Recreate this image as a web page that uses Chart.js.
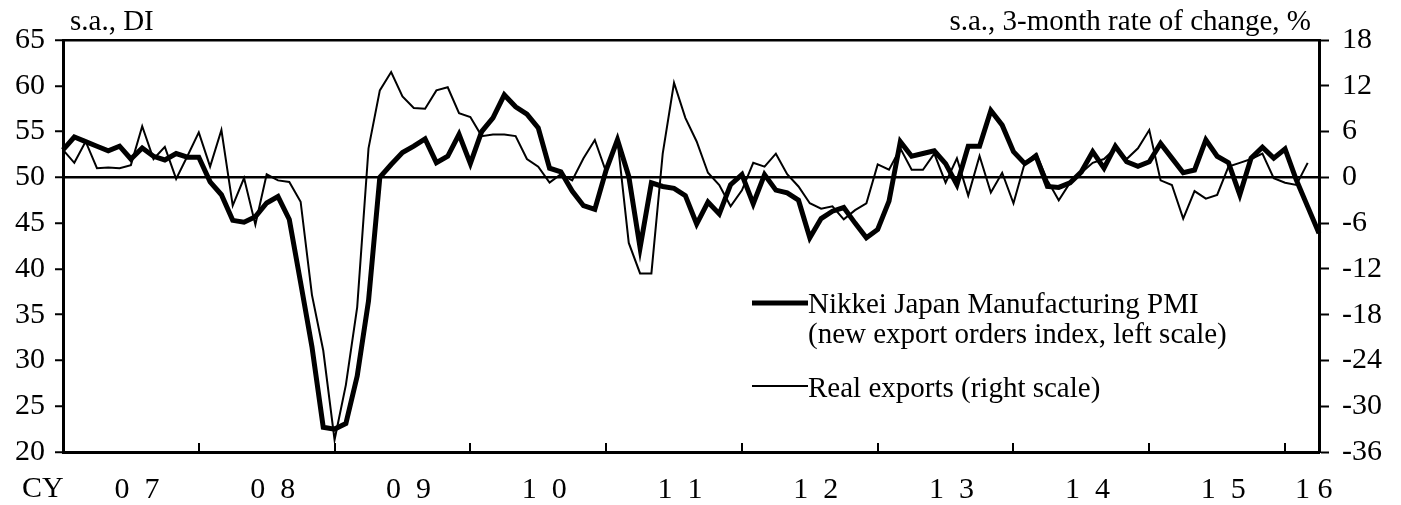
<!DOCTYPE html>
<html>
<head>
<meta charset="utf-8">
<script src="https://cdn.jsdelivr.net/npm/chart.js@4.4.0/dist/chart.umd.min.js"></script>
<style>
  html, body { margin: 0; padding: 0; background: #fff; }
  #wrap { width: 1401px; height: 505px; position: relative; }
</style>
</head>
<body>
<div id="wrap"><canvas id="chart"></canvas></div>
<script>
// Monthly, Jan 2007 - Apr 2016
const months = [];
for (let y = 2007; y <= 2016; y++) {
    for (let m = 1; m <= 12; m++) {
        if (y === 2016 && m > 4) break;
        months.push(y + '-' + String(m).padStart(2, '0'));
    }
}

// x-axis year labels and the month index they sit on
const yearLabels = ['0  7', '0  8', '0  9', '1  0', '1  1', '1  2', '1  3', '1  4', '1  5', '1 6'];
const yearLabelIdx = [6, 18, 30, 42, 54, 66, 78, 90, 102, 110];

// Nikkei Japan Manufacturing PMI, new export orders (left scale, DI)
const pmiExportOrders = [
    53.0, 54.4, 53.9, 53.4, 52.9, 53.4, 52.0, 53.2, 52.3, 51.9, 52.6, 52.2,
    52.2, 49.5, 48.1, 45.3, 45.1, 45.7, 47.2, 47.9, 45.4, 38.5, 31.5, 22.7,
    22.5, 23.1, 28.3, 36.5, 50.0, 51.4, 52.7, 53.4, 54.2, 51.6, 52.3, 54.7,
    51.5, 55.0, 56.5, 59.0, 57.7, 56.9, 55.4, 51.0, 50.6, 48.5, 46.9, 46.5,
    50.8, 54.1, 50.1, 42.3, 49.4, 49.0, 48.8, 48.0, 44.9, 47.3, 46.0, 49.2,
    50.3, 47.1, 50.3, 48.6, 48.3, 47.5, 43.4, 45.5, 46.3, 46.7, 45.0, 43.4,
    44.3, 47.4, 53.9, 52.3, 52.6, 52.9, 51.5, 49.2, 53.4, 53.4, 57.3, 55.7,
    52.8, 51.5, 52.3, 49.0, 48.9, 49.4, 50.6, 52.8, 51.0, 53.4, 51.7, 51.2,
    51.7, 53.7, 52.1, 50.5, 50.8, 54.1, 52.3, 51.6, 48.1, 52.1, 53.3, 52.1,
    53.1, 49.7, 46.8, 43.9
];

// Real exports, 3-month rate of change, % (right scale)
const realExports = [
    3.6, 1.9, 4.7, 1.2, 1.3, 1.2, 1.6, 6.7, 2.4, 4.0, -0.2, 2.8,
    5.9, 1.4, 6.2, -3.7, -0.1, -6.2, 0.4, -0.4, -0.6, -3.2, -15.4, -22.7,
    -34.4, -27.2, -17.0, 3.8, 11.4, 13.8, 10.6, 9.1, 9.0, 11.4, 11.8, 8.4,
    7.9, 5.4, 5.6, 5.6, 5.4, 2.4, 1.4, -0.7, 0.4, -0.4, 2.5, 4.9,
    0.7, 4.9, -8.6, -12.6, -12.6, 3.1, 12.4, 7.8, 4.7, 0.6, -1.0, -3.8,
    -1.7, 1.9, 1.4, 3.1, 0.4, -1.2, -3.4, -4.1, -3.8, -5.5, -4.3, -3.4,
    1.7, 1.0, 3.8, 1.0, 1.0, 3.1, -0.7, 2.5, -2.4, 2.8, -2.0, 0.6,
    -3.4, 1.9, 3.1, -0.4, -3.0, -0.7, 0.6, 1.9, 2.4, 3.8, 2.4, 3.8,
    6.2, -0.4, -1.0, -5.4, -1.8, -2.8, -2.3, 1.4, 1.9, 2.4, 3.1, -0.1,
    -0.7, -1.0, 1.9
];

const seriesNames = [
    ['Nikkei Japan Manufacturing PMI', '(new export orders index, left scale)'],
    ['Real exports (right scale)']
];

const FONT = 'Liberation Serif, Times New Roman, serif';
const textSize = 29;
const tickSize = 30;

// Titles, CY label, inward year ticks and the legend
const extrasPlugin = {
    id: 'extras',
    afterDraw(chart) {
        const ctx = chart.ctx;
        const area = chart.chartArea;
        const xs = chart.scales.x;
        ctx.save();
        ctx.fillStyle = '#000';
        ctx.strokeStyle = '#000';
        ctx.font = textSize + 'px ' + FONT;

        // axis unit titles
        ctx.textBaseline = 'alphabetic';
        ctx.textAlign = 'left';
        ctx.fillText('s.a., DI', area.left + 7, 30);
        ctx.textAlign = 'right';
        ctx.fillText('s.a., 3-month rate of change, %', area.right - 8, 30);

        // CY
        ctx.font = tickSize + 'px ' + FONT;
        ctx.textAlign = 'left';
        ctx.fillText('CY', area.left - 41, 497);

        // year boundary ticks pointing into the plot
        ctx.lineWidth = 2;
        for (let i = 12; i < months.length; i += 12) {
            const x = Math.round(xs.getPixelForValue(i));
            ctx.beginPath();
            ctx.moveTo(x, area.bottom);
            ctx.lineTo(x, area.bottom - 9);
            ctx.stroke();
        }

        // legend
        ctx.font = textSize + 'px ' + FONT;
        const lx0 = area.left + 689;
        const lx1 = area.left + 745;
        const rows = [
            { ds: 0, lineY: 303, base: [313, 343] },
            { ds: 1, lineY: 386, base: [397] }
        ];
        rows.forEach(r => {
            const ds = chart.data.datasets[r.ds];
            ctx.lineWidth = ds.borderWidth;
            ctx.beginPath();
            ctx.moveTo(lx0, r.lineY);
            ctx.lineTo(lx1, r.lineY);
            ctx.stroke();
            seriesNames[r.ds].forEach((t, k) => {
                ctx.fillText(t, lx1, r.base[k]);
            });
        });
        ctx.restore();
    }
};

new Chart(document.getElementById('chart').getContext('2d'), {
    type: 'line',
    data: {
        labels: months,
        datasets: [{
            label: seriesNames[0].join(' '),
            data: pmiExportOrders,
            yAxisID: 'y',
            borderColor: '#000',
            borderWidth: 5,
            pointRadius: 0,
            tension: 0,
        }, {
            label: seriesNames[1][0],
            data: realExports,
            yAxisID: 'y1',
            borderColor: '#000',
            borderWidth: 2,
            pointRadius: 0,
            tension: 0,
        }],
    },
    options: {
        responsive: true,
        maintainAspectRatio: false,
        animation: false,
        layout: { padding: { top: 40 } },
        plugins: {
            legend: { display: false },
            tooltip: { enabled: false },
        },
        scales: {
            x: {
                type: 'category',
                offset: false,
                grid: { display: false },
                border: { display: true, color: '#000', width: 3 },
                ticks: {
                    autoSkip: false,
                    maxRotation: 0,
                    padding: 12,
                    labelOffset: 6,
                    color: '#000',
                    font: { family: FONT, size: tickSize },
                    callback: (v, i) => {
                        const k = yearLabelIdx.indexOf(i);
                        return k >= 0 ? yearLabels[k] : '';
                    },
                },
                afterFit: s => { s.height = 53; },
            },
            y: {
                position: 'left',
                min: 20,
                max: 65,
                grid: {
                    color: c => (c.tick && (c.tick.value === 50 || c.tick.value === 65)) ? '#000' : 'rgba(0,0,0,0)',
                    lineWidth: 2.5,
                    tickColor: '#000',
                    tickWidth: 2,
                    tickLength: 8,
                },
                border: { display: true, color: '#000', width: 3 },
                ticks: {
                    stepSize: 5,
                    padding: 10,
                    color: '#000',
                    font: { family: FONT, size: tickSize },
                },
                afterFit: s => { s.width = 63; },
            },
            y1: {
                position: 'right',
                min: -36,
                max: 18,
                grid: {
                    drawOnChartArea: false,
                    tickColor: '#000',
                    tickWidth: 2,
                    tickLength: 10,
                },
                border: { display: true, color: '#000', width: 3 },
                ticks: {
                    stepSize: 6,
                    padding: 13,
                    color: '#000',
                    font: { family: FONT, size: tickSize },
                },
                afterFit: s => { s.width = 82; },
            },
        },
    },
    plugins: [extrasPlugin],
});
</script>
</body>
</html>
